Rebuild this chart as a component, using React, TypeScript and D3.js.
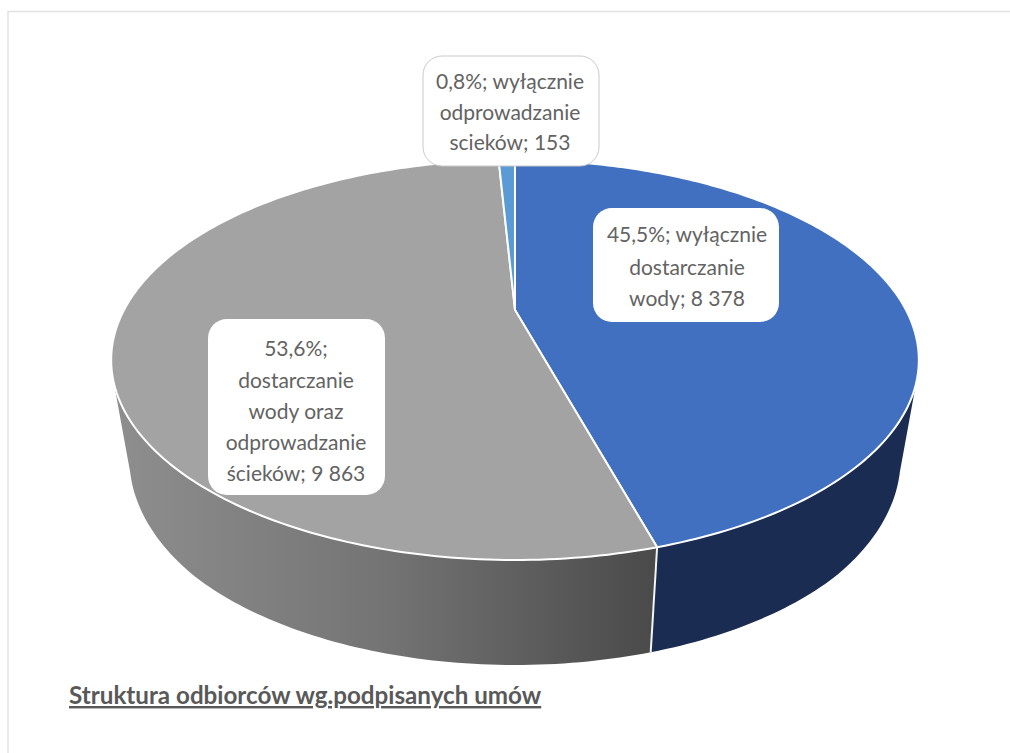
import { useRef, useEffect } from "react";
import * as d3 from "d3";

const categories: string[] = ["wyłącznie dostarczanie wody", "dostarczanie wody oraz odprowadzanie ścieków", "wyłącznie odprowadzanie scieków"];
const values: number[] = [8378, 9863, 153];
const colors: string[] = ["#4170c0", "#a3a3a3", "#5b9bd5"];
const wallColors: string[] = ["#1a2c52", "url(#grayWall)", "#2f5f8f"];
const labelLines: string[][] = [
  ["45,5%; wyłącznie", "dostarczanie", "wody; 8 378"],
  ["53,6%;", "dostarczanie", "wody oraz", "odprowadzanie", "ścieków; 9 863"],
  ["0,8%; wyłącznie", "odprowadzanie", "scieków; 153"],
];
const title = "Struktura odbiorców wg.podpisanych umów";

const width = 1010;
const height = 753;
const font = "Lato, 'Open Sans', sans-serif";

// perspective of the pie plate
const cx = 515;
const cy = 310;
const R = 391;
const S = 187.5;
const c = 0.25;

const project = (a: number): [number, number] => {
  const u = Math.sin(a);
  const v = -Math.cos(a);
  const w = 1 - c * v;
  return [cx + (R * u) / w, cy + (S * v) / w];
};

// lower rim of the wall
const lower = ([x, y]: [number, number]): [number, number] => [
  cx + (x - cx) * 0.955,
  y + 105 - Math.max(0, 470 - y) * 0.06,
];

const sample = (a0: number, a1: number) => {
  const n = Math.max(2, Math.ceil(Math.abs(a1 - a0) * 60));
  return d3.range(n + 1).map((i) => a0 + ((a1 - a0) * i) / n);
};

const boxes = [
  { x: 593, y: 208, w: 186, h: 114, tx: 687, base: [242, 275, 306] },
  { x: 208, y: 319, w: 177, h: 176, tx: 296, base: [356, 388, 419, 450, 481] },
  { x: 423, y: 56, w: 176, h: 110, tx: 510, base: [89, 120, 150] },
];

const Pie3D = () => {
  const svgRef = useRef<SVGSVGElement>(null);

  useEffect(() => {
    const svg: any = d3.select(svgRef.current);
    svg.selectAll("*").remove();

    const defs = svg.append("defs");
    const grad = defs.append("linearGradient")
      .attr("id", "grayWall")
      .attr("gradientUnits", "userSpaceOnUse")
      .attr("x1", 115).attr("x2", 655).attr("y1", 0).attr("y2", 0);
    grad.append("stop").attr("offset", 0).attr("stop-color", "#8e8e8e");
    grad.append("stop").attr("offset", 0.5).attr("stop-color", "#747474");
    grad.append("stop").attr("offset", 1).attr("stop-color", "#4a4a4a");

    // frame
    svg.append("path")
      .attr("d", `M8,${height} V11.5 H${width}`)
      .attr("fill", "none")
      .attr("stroke", "#e2e2e2")
      .attr("stroke-width", 1.5);

    const arcs = d3.pie<number>().sort(null)(values);
    const line = d3.line();

    // walls, only the front part of the rim is visible
    const wallFrom = (108 * Math.PI) / 180;
    const wallTo = (252 * Math.PI) / 180;
    arcs.forEach((d, i) => {
      const a0 = Math.max(d.startAngle, wallFrom);
      const a1 = Math.min(d.endAngle, wallTo);
      if (a1 <= a0) return;
      const top = sample(a0, a1).map(project);
      const bottom = top.map(lower).reverse();
      svg.append("path")
        .attr("d", line([...top, ...bottom]) + "Z")
        .attr("fill", wallColors[i]);
    });

    // white seam between the two walls
    const seam = project(arcs[0].endAngle);
    svg.append("path")
      .attr("d", line([seam, lower(seam)]))
      .attr("stroke", "#f4f4f4")
      .attr("stroke-width", 2);

    // top plate
    arcs.forEach((d, i) => {
      const pts = sample(d.startAngle, d.endAngle).map(project);
      svg.append("path")
        .attr("d", line([[cx, cy], ...pts]) + "Z")
        .attr("fill", colors[i])
        .attr("stroke", "#ffffff")
        .attr("stroke-width", 2)
        .attr("stroke-linejoin", "round")
        .append("title")
        .text(categories[i]);
    });

    // labels
    boxes.forEach((b, i) => {
      svg.append("rect")
        .attr("x", b.x).attr("y", b.y)
        .attr("width", b.w).attr("height", b.h)
        .attr("rx", 19).attr("ry", 19)
        .attr("fill", "#ffffff")
        .attr("stroke", i === 2 ? "#c9c9c9" : "none");
      labelLines[i].forEach((t, j) => {
        svg.append("text")
          .attr("x", b.tx).attr("y", b.base[j])
          .attr("text-anchor", "middle")
          .attr("font-family", font)
          .attr("font-size", 21)
          .attr("fill", "#636363")
          .text(t);
      });
    });

    svg.append("text")
      .attr("x", 69).attr("y", 704)
      .attr("font-family", font)
      .attr("font-size", 24.2)
      .attr("font-weight", 700)
      .attr("fill", "#595959")
      .attr("text-decoration", "underline")
      .text(title);
  }, []);

  return <svg ref={svgRef} width={width} height={height} style={{ position: "absolute", left: 0, top: 0, background: "#fff" }} />;
};

export default function App() {
  return <Pie3D />;
}
